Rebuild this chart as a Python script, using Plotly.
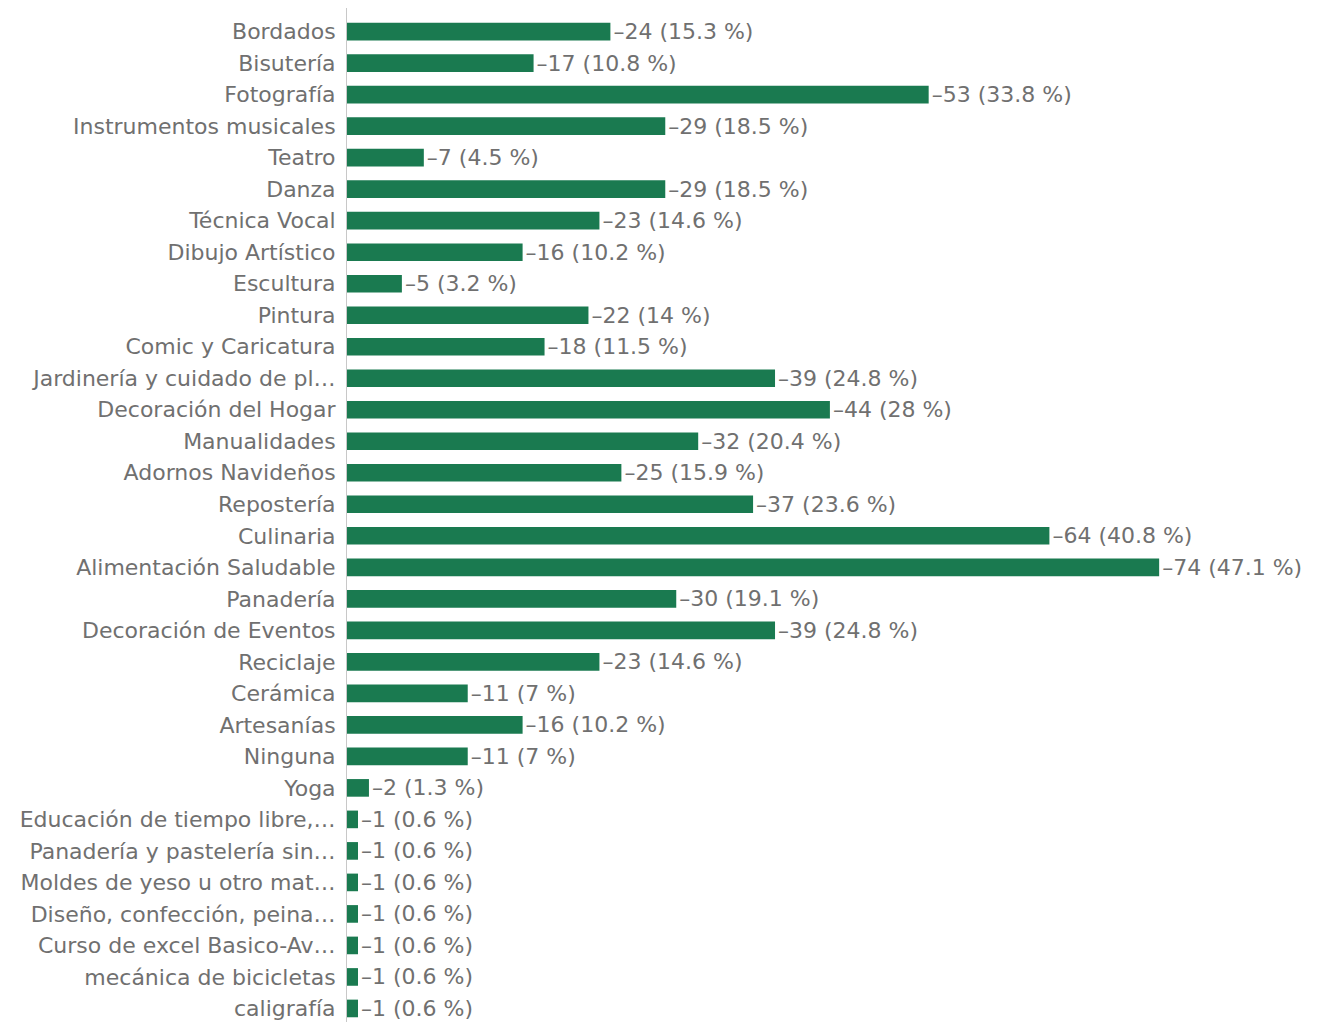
import plotly.graph_objects as go

# Responses per activity (total respondents = 157)
categories = [
    "Bordados", "Bisutería", "Fotografía", "Instrumentos musicales", "Teatro",
    "Danza", "Técnica Vocal", "Dibujo Artístico", "Escultura", "Pintura",
    "Comic y Caricatura", "Jardinería y cuidado de pl…", "Decoración del Hogar",
    "Manualidades", "Adornos Navideños", "Repostería", "Culinaria",
    "Alimentación Saludable", "Panadería", "Decoración de Eventos", "Reciclaje",
    "Cerámica", "Artesanías", "Ninguna", "Yoga",
    "Educación de tiempo libre,…", "Panadería y pastelería sin…",
    "Moldes de yeso u otro mat…", "Diseño, confección, peina…",
    "Curso de excel Basico-Av…", "mecánica de bicicletas", "caligrafía",
]
counts = [
    24, 17, 53, 29, 7,
    29, 23, 16, 5, 22,
    18, 39, 44,
    32, 25, 37, 64,
    74, 30, 39, 23,
    11, 16, 11, 2,
    1, 1,
    1, 1,
    1, 1, 1,
]
total = 157

labels = []
for c in counts:
    pct = round(c / total * 100, 1)
    labels.append(f"–{c} ({pct:g} %)")

font_family = "DejaVu Sans"
text_grey = "#707070"

fig = go.Figure(
    go.Bar(
        x=counts,
        y=categories,
        orientation="h",
        marker=dict(color="#1a7a50", line=dict(width=0)),
        text=labels,
        textposition="outside",
        cliponaxis=False,
        textfont=dict(family=font_family, size=22, color=text_grey),
        width=0.56,
    )
)

n = len(categories)
fig.update_layout(
    width=1325,
    height=1022,
    margin=dict(l=347, r=100, t=8, b=0),
    plot_bgcolor="white",
    paper_bgcolor="white",
    showlegend=False,
    uniformtext=dict(minsize=22, mode="show"),
    font=dict(family=font_family, size=22, color=text_grey),
)
fig.update_xaxes(
    range=[0, 80],
    showgrid=False,
    zeroline=False,
    showticklabels=False,
    showline=False,
)
fig.update_yaxes(
    type="category",
    categoryorder="array",
    categoryarray=categories,
    range=[n - 0.57, -0.75],
    showgrid=False,
    zeroline=False,
    showline=True,
    linecolor="#c8c8c8",
    linewidth=1,
    ticks="",
    ticklabelstandoff=6,
    tickfont=dict(family=font_family, size=22, color=text_grey),
)

fig.write_html("out.html")
